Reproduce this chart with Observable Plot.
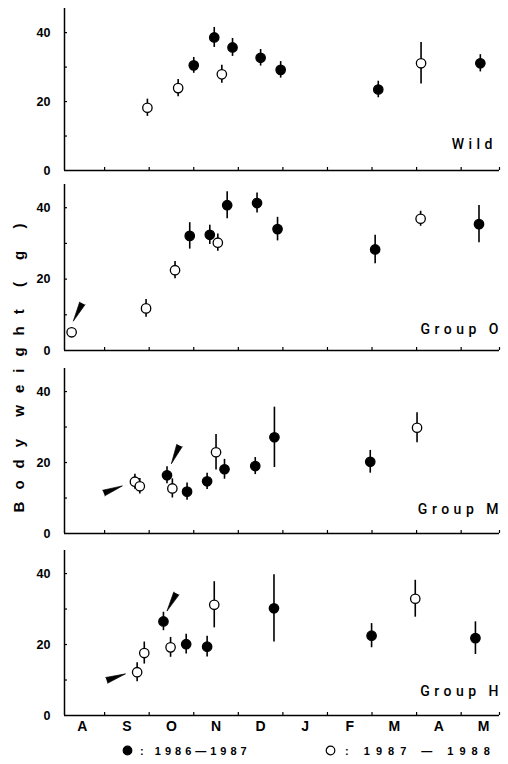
<!DOCTYPE html>
<html>
<head>
<meta charset="utf-8">
<script src="https://cdn.jsdelivr.net/npm/d3@7"></script>
<script src="https://cdn.jsdelivr.net/npm/@observablehq/plot@0.6"></script>
<style>
  body { margin: 0; background: #fff; }
  #wrap { position: relative; width: 508px; height: 764px; overflow: hidden; background: #fff;
          font-family: "Liberation Sans", Arial, sans-serif; color: #000; }
  .panel { position: absolute; left: 0; }
  .panel svg { display: block; overflow: visible; }
  #ylab { position: absolute; left: 18px; top: 362px; transform: translate(-50%, -50%) rotate(-90deg);
          white-space: pre; font-weight: bold; font-size: 15px; letter-spacing: 12px; word-spacing: -6px; }
  .leg { position: absolute; white-space: pre; font-weight: bold; font-size: 11px; line-height: 14px; }
  .leg svg { vertical-align: -1px; }
</style>
</head>
<body>
<div id="wrap"></div>
<script>
// ---------- data ----------
const seasons = ["1986–1987", "1987–1988"];          // filled, open
const monthLabels = ["A", "S", "O", "N", "D", "J", "F", "M", "A", "M"];
const monthBounds = [1, 2, 3, 4, 5, 6, 7, 8, 9];       // month starts (months since 1 Aug)
const yLabelTicks = [0, 20, 40];
const yMinorTicks = [10, 20, 30, 40];

// m = months since 1 August, w = mean body weight (g), e = error bar half-length, s = season index
const wild = [
  {m: 1.96, w: 18.2, e: 2.5, s: 1},
  {m: 2.65, w: 23.9, e: 2.5, s: 1},
  {m: 3.00, w: 30.5, e: 2.3, s: 0},
  {m: 3.46, w: 38.6, e: 2.9, s: 0},
  {m: 3.63, w: 27.9, e: 2.6, s: 1},
  {m: 3.87, w: 35.7, e: 2.6, s: 0},
  {m: 4.50, w: 32.7, e: 2.4, s: 0},
  {m: 4.95, w: 29.2, e: 2.4, s: 0},
  {m: 7.14, w: 23.5, e: 2.4, s: 0},
  {m: 8.10, w: 31.1, e: 6.0, s: 1},
  {m: 9.43, w: 31.1, e: 2.5, s: 0}
];
const groupO = [
  {m: 0.26, w: 5.1, e: 0.6, s: 1},
  {m: 1.93, w: 11.8, e: 2.5, s: 1},
  {m: 2.58, w: 22.5, e: 2.4, s: 1},
  {m: 2.91, w: 32.1, e: 3.7, s: 0},
  {m: 3.36, w: 32.4, e: 2.7, s: 0},
  {m: 3.54, w: 30.2, e: 2.4, s: 1},
  {m: 3.75, w: 40.7, e: 3.8, s: 0},
  {m: 4.42, w: 41.3, e: 2.8, s: 0},
  {m: 4.88, w: 34.0, e: 3.3, s: 0},
  {m: 7.07, w: 28.3, e: 4.0, s: 0},
  {m: 8.09, w: 36.9, e: 2.1, s: 1},
  {m: 9.40, w: 35.4, e: 5.2, s: 0}
];
const groupM = [
  {m: 1.68, w: 14.6, e: 2.1, s: 1},
  {m: 1.79, w: 13.3, e: 2.2, s: 1},
  {m: 2.40, w: 16.4, e: 2.4, s: 0},
  {m: 2.52, w: 12.7, e: 2.7, s: 1},
  {m: 2.85, w: 11.8, e: 2.4, s: 0},
  {m: 3.30, w: 14.7, e: 2.3, s: 0},
  {m: 3.50, w: 22.9, e: 5.0, s: 1},
  {m: 3.69, w: 18.1, e: 2.8, s: 0},
  {m: 4.38, w: 19.0, e: 2.4, s: 0},
  {m: 4.81, w: 27.1, e: 8.5, s: 0},
  {m: 6.96, w: 20.2, e: 3.2, s: 0},
  {m: 8.01, w: 29.8, e: 4.2, s: 1}
];
const groupH = [
  {m: 1.73, w: 12.2, e: 2.7, s: 1},
  {m: 1.89, w: 17.6, e: 3.1, s: 1},
  {m: 2.32, w: 26.5, e: 2.6, s: 0},
  {m: 2.48, w: 19.2, e: 2.8, s: 1},
  {m: 2.83, w: 20.1, e: 2.8, s: 0},
  {m: 3.30, w: 19.4, e: 2.9, s: 0},
  {m: 3.46, w: 31.2, e: 6.5, s: 1},
  {m: 4.80, w: 30.2, e: 9.5, s: 0},
  {m: 6.99, w: 22.5, e: 3.4, s: 0},
  {m: 7.97, w: 32.9, e: 5.2, s: 1},
  {m: 9.32, w: 21.8, e: 4.6, s: 0}
];
// arrow annotations: tail point (m, w) and direction in degrees clockwise from up
const wildArrows = [];
const groupOArrows = [{m: 0.50, w: 13.2, angle: 207}];
const groupMArrows = [{m: 0.98, w: 11.4, angle: 69}, {m: 2.68, w: 24.8, angle: 204}];
const groupHArrows = [{m: 1.045, w: 9.9, angle: 71}, {m: 2.61, w: 34.4, angle: 208}];

// ---------- layout ----------
const xDomain = [0.1, 9.86];
const panels = [
  {label: "Wild",    data: wild,   arrows: wildArrows,   top: 0,   height: 180, mt: 8, mb: 10, ymax: 47,   ldy: 21.5, ldx: -2.5},
  {label: "Group O", data: groupO, arrows: groupOArrows, top: 180, height: 182, mt: 4, mb: 12, ymax: 46.5, ldy: 17,   ldx: 3.5},
  {label: "Group M", data: groupM, arrows: groupMArrows, top: 362, height: 182, mt: 6, mb: 11, ymax: 46.5, ldy: 20,   ldx: 3.5},
  {label: "Group H", data: groupH, arrows: groupHArrows, top: 544, height: 200, mt: 6, mb: 29, ymax: 46.5, ldy: 19.5, ldx: 3.5, months: true}
];

const wrap = document.getElementById("wrap");

for (const p of panels) {
  const marks = [
    Plot.ruleX([xDomain[0]], {stroke: "black", strokeWidth: 1.5}),
    Plot.ruleY([0], {stroke: "black", strokeWidth: 1.5}),
    Plot.axisY({ticks: yMinorTicks, anchor: "left", tickSize: 3, dx: 3, tickFormat: () => "",
                label: null, strokeWidth: 1.2}),
    Plot.axisY({ticks: yLabelTicks, anchor: "left", tickSize: 0, tickPadding: 14, label: null,
                fontSize: 12.5, fontWeight: "bold", tickFormat: d => String(d)}),
    Plot.axisX({ticks: [...monthBounds, xDomain[1]], anchor: "bottom", tickSize: 3, dy: -3,
                tickFormat: () => "", label: null, strokeWidth: 1.2}),
    Plot.ruleX(p.data, {x: "m", y1: d => d.w - d.e, y2: d => d.w + d.e, stroke: "black", strokeWidth: 1.6}),
    Plot.dot(p.data, {x: "m", y: "w", r: 4.7, fill: d => seasons[d.s], stroke: "black", strokeWidth: 1.3}),
    Plot.vector(p.arrows, {x: "m", y: "w", rotate: "angle", length: 20, anchor: "start", shape: "spike",
                           r: 3, fill: "black", stroke: "black", strokeWidth: 0.6}),
    Plot.text([p.label], {text: d => d, frameAnchor: "bottom-right", textAnchor: "end", lineAnchor: "bottom",
                          dx: p.ldx, dy: -p.ldy, fontSize: 14, fontWeight: "normal",
                          fontFamily: "Roboto, 'Liberation Sans', sans-serif"})
  ];
  if (p.months) {
    marks.push(Plot.axisX({ticks: monthLabels.map((_, i) => i + 0.5), anchor: "bottom", tickSize: 0,
                           tickPadding: 6, fontSize: 14, fontWeight: "bold", label: null,
                           tickFormat: d => monthLabels[Math.floor(d)]}));
  }
  const chart = Plot.plot({
    width: 508,
    height: p.height,
    marginLeft: 64,
    marginRight: 9,
    marginTop: p.mt,
    marginBottom: p.mb,
    x: {domain: xDomain},
    y: {domain: [0, p.ymax]},
    color: {domain: seasons, range: ["black", "white"]},
    style: {background: "white", color: "black", fontFamily: "'Liberation Sans', Arial, sans-serif", overflow: "visible"},
    marks
  });
  // letter-spaced panel label, as in the original figure
  chart.querySelectorAll("text").forEach(t => {
    if (t.textContent === p.label) {
      t.style.letterSpacing = "4.5px";
      t.style.fontWeight = "500";
    }
  });
  const div = document.createElement("div");
  div.className = "panel";
  div.style.top = p.top + "px";
  div.appendChild(chart);
  wrap.appendChild(div);
}

// y-axis title
const ylab = document.createElement("div");
ylab.id = "ylab";
ylab.textContent = "Body weight ( g )";
wrap.appendChild(ylab);

// legend
const legendItems = [
  {season: 0, text: " : 1986—1987", left: 122, spacing: 4},
  {season: 1, text: " : 1987 — 1988", left: 325, spacing: 6}
];
for (const it of legendItems) {
  const d = document.createElement("div");
  d.className = "leg";
  d.style.left = it.left + "px";
  d.style.top = "744px";
  const sym = d3.create("svg").attr("width", 11).attr("height", 11);
  sym.append("circle").attr("cx", 5.5).attr("cy", 5.5).attr("r", 4.3)
    .attr("fill", it.season === 0 ? "black" : "white").attr("stroke", "black").attr("stroke-width", 1.2);
  const t = document.createElement("span");
  t.textContent = it.text;
  t.style.letterSpacing = it.spacing + "px";
  d.appendChild(sym.node());
  d.appendChild(t);
  wrap.appendChild(d);
}
</script>
</body>
</html>
